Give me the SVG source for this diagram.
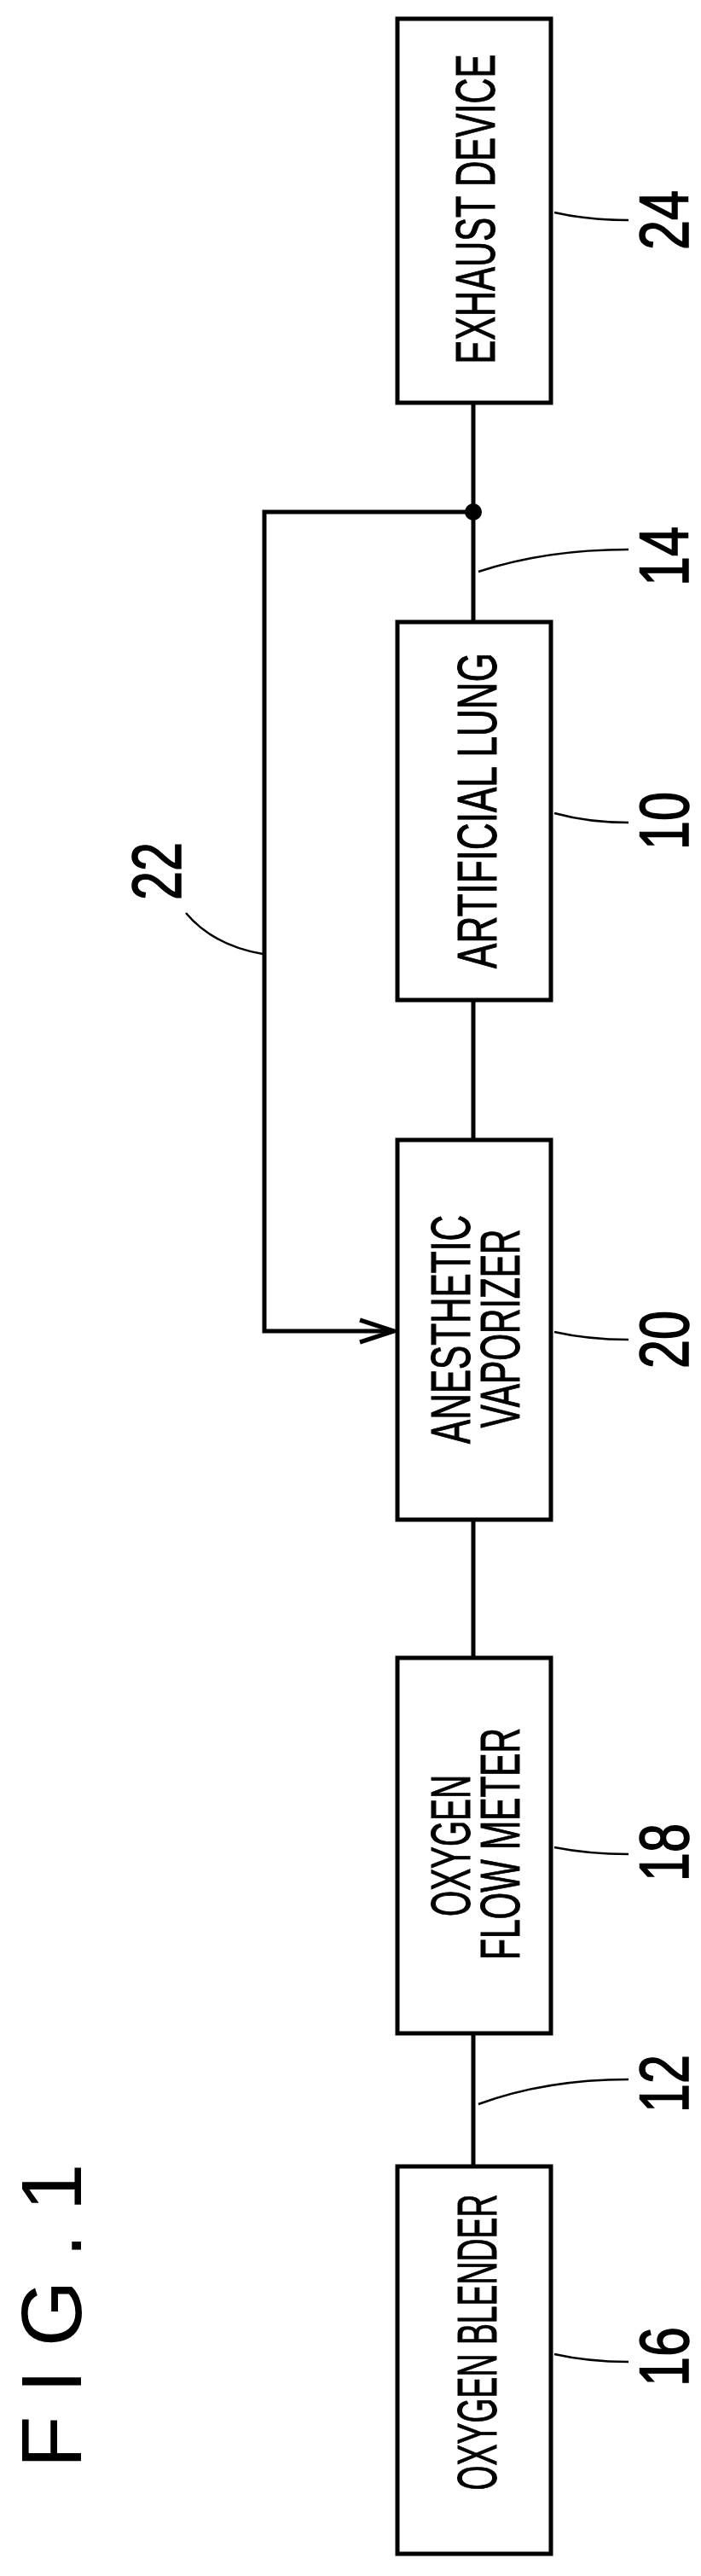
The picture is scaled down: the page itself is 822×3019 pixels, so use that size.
<svg xmlns="http://www.w3.org/2000/svg" width="822" height="3019" viewBox="0 0 822 3019">
<style>
.box{fill:#fff;stroke:#000;stroke-width:5}
.ln{fill:none;stroke:#000;stroke-width:5}
.ld{fill:none;stroke:#000;stroke-width:2.5}
.t{font-family:"Liberation Sans",Arial,sans-serif;font-size:64px;text-anchor:middle;stroke:#000;stroke-width:1}
.n{font-family:"Liberation Sans",Arial,sans-serif;font-size:82px;text-anchor:middle;stroke:#000;stroke-width:1.5}
</style>
<rect width="822" height="3019" fill="#fff"/>
<g id="connectors">
<path class="ln" d="M555 472V729M555 1172V1336M555 1781V1943M555 2383V2539"/>
<path class="ln" d="M555 600H310V1560H462"/>
<path class="ln" d="M422 1547L462 1560L422 1573"/>
<circle cx="555" cy="600" r="10" fill="#000"/>
<path class="ld" d="M650 249Q690 258 737 258"/>
<path class="ld" d="M561 670Q640 644 737 644"/>
<path class="ld" d="M650 953Q690 964 737 964"/>
<path class="ld" d="M218 1070Q250 1108 308 1118"/>
<path class="ld" d="M650 1561Q690 1570 737 1570"/>
<path class="ld" d="M650 2165Q690 2173 737 2173"/>
<path class="ld" d="M561 2466Q640 2437 737 2437"/>
<path class="ld" d="M650 2759Q690 2768 737 2768"/>
</g>
<g id="n24"><rect class="box" x="466" y="22" width="180" height="450"/>
<text class="t" transform="translate(580 245) rotate(-90)" textLength="363" lengthAdjust="spacingAndGlyphs">EXHAUST DEVICE</text>
<text class="n" transform="translate(807 258) rotate(-90)" textLength="70" lengthAdjust="spacingAndGlyphs">24</text></g>
<g id="n14"><text class="n" transform="translate(807 652) rotate(-90)" textLength="70" lengthAdjust="spacingAndGlyphs">14</text></g>
<g id="n10"><rect class="box" x="466" y="729" width="180" height="443"/>
<text class="t" transform="translate(582 950) rotate(-90)" textLength="370" lengthAdjust="spacingAndGlyphs">ARTIFICIAL LUNG</text>
<text class="n" transform="translate(807 962) rotate(-90)" textLength="68" lengthAdjust="spacingAndGlyphs">10</text></g>
<g id="n22"><text class="n" transform="translate(212 1021) rotate(-90)" textLength="68" lengthAdjust="spacingAndGlyphs">22</text></g>
<g id="n20"><rect class="box" x="466" y="1336" width="180" height="445"/>
<text class="t" transform="translate(551 1558) rotate(-90)" textLength="268" lengthAdjust="spacingAndGlyphs">ANESTHETIC</text>
<text class="t" transform="translate(609 1557) rotate(-90)" textLength="233" lengthAdjust="spacingAndGlyphs">VAPORIZER</text>
<text class="n" transform="translate(807 1570) rotate(-90)" textLength="68" lengthAdjust="spacingAndGlyphs">20</text></g>
<g id="n18"><rect class="box" x="466" y="1943" width="180" height="440"/>
<text class="t" transform="translate(551 2163) rotate(-90)" textLength="166" lengthAdjust="spacingAndGlyphs">OXYGEN</text>
<text class="t" transform="translate(609 2161) rotate(-90)" textLength="272" lengthAdjust="spacingAndGlyphs">FLOW METER</text>
<text class="n" transform="translate(807 2171) rotate(-90)" textLength="68" lengthAdjust="spacingAndGlyphs">18</text></g>
<g id="n12"><text class="n" transform="translate(807 2442) rotate(-90)" textLength="68" lengthAdjust="spacingAndGlyphs">12</text></g>
<g id="n16"><rect class="box" x="466" y="2539" width="180" height="454"/>
<text class="t" transform="translate(582 2745) rotate(-90)" textLength="347" lengthAdjust="spacingAndGlyphs">OXYGEN BLENDER</text>
<text class="n" transform="translate(807 2762) rotate(-90)" textLength="70" lengthAdjust="spacingAndGlyphs">16</text></g>
<g id="fig"><text transform="translate(95 2714) rotate(-90)" font-family="Liberation Sans,Arial,sans-serif" font-size="100" text-anchor="middle" textLength="357" lengthAdjust="spacing">FIG.1</text></g>
</svg>
